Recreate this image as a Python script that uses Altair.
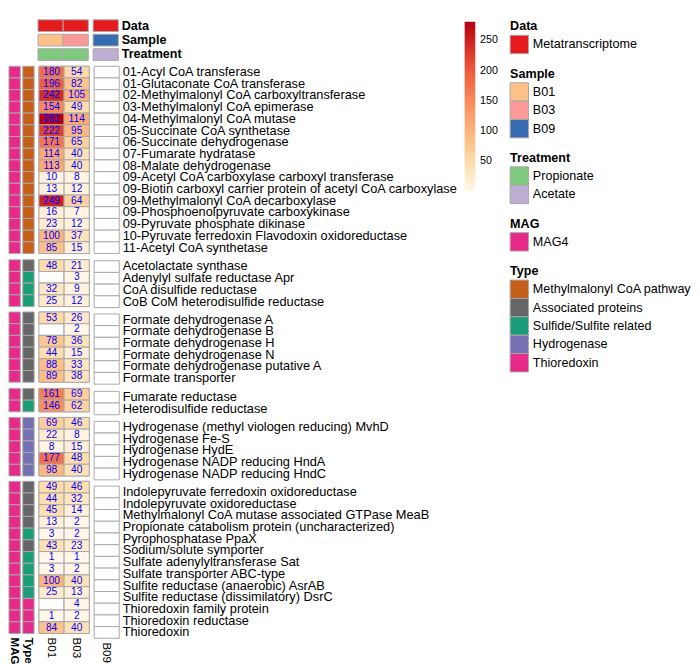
import altair as alt
import pandas as pd

# ---------------- data ----------------
genes = [
    "01-Acyl CoA transferase",
    "01-Glutaconate CoA transferase",
    "02-Methylmalonyl CoA carboxyltransferase",
    "03-Methylmalonyl CoA epimerase",
    "04-Methylmalonyl CoA mutase",
    "05-Succinate CoA synthetase",
    "06-Succinate dehydrogenase",
    "07-Fumarate hydratase",
    "08-Malate dehydrogenase",
    "09-Acetyl CoA carboxylase carboxyl transferase",
    "09-Biotin carboxyl carrier protein of acetyl CoA carboxylase",
    "09-Methylmalonyl CoA decarboxylase",
    "09-Phosphoenolpyruvate carboxykinase",
    "09-Pyruvate phosphate dikinase",
    "10-Pyruvate ferredoxin Flavodoxin oxidoreductase",
    "11-Acetyl CoA synthetase",
    "Acetolactate synthase",
    "Adenylyl sulfate reductase Apr",
    "CoA disulfide reductase",
    "CoB CoM heterodisulfide reductase",
    "Formate dehydrogenase A",
    "Formate dehydrogenase B",
    "Formate dehydrogenase H",
    "Formate dehydrogenase N",
    "Formate dehydrogenase putative A",
    "Formate transporter",
    "Fumarate reductase",
    "Heterodisulfide reductase",
    "Hydrogenase (methyl viologen reducing) MvhD",
    "Hydrogenase Fe-S",
    "Hydrogenase HydE",
    "Hydrogenase NADP reducing HndA",
    "Hydrogenase NADP reducing HndC",
    "Indolepyruvate ferredoxin oxidoreductase",
    "Indolepyruvate oxidoreductase",
    "Methylmalonyl CoA mutase associated GTPase MeaB",
    "Propionate catabolism protein (uncharacterized)",
    "Pyrophosphatase PpaX",
    "Sodium/solute symporter",
    "Sulfate adenylyltransferase Sat",
    "Sulfate transporter ABC-type",
    "Sulfite reductase (anaerobic) AsrAB",
    "Sulfite reductase (dissimilatory) DsrC",
    "Thioredoxin family protein",
    "Thioredoxin reductase",
    "Thioredoxin",
]
group_sizes = [16, 4, 6, 2, 5, 13]
type_codes = (["M"] * 16 + ["A", "S", "S", "S"] + ["A"] * 6 + ["A", "S"] + ["H"] * 5
              + ["A", "A", "A", "A", "S", "A", "S", "S", "S", "S", "T", "T", "T"])
b01 = [180, 196, 242, 154, 281, 222, 171, 114, 113, 10, 13, 249, 16, 23, 100, 85,
       48, None, 32, 25,
       53, None, 78, 44, 88, 89,
       161, 146,
       69, 22, 8, 177, 98,
       49, 44, 45, 13, 3, 43, 1, 3, 100, 25, None, 1, 84]
b03 = [54, 82, 105, 49, 114, 95, 65, 40, 40, 8, 12, 64, 7, 12, 37, 15,
       21, 3, 9, 12,
       26, 2, 36, 15, 33, 38,
       69, 62,
       46, 8, 15, 48, 40,
       46, 32, 14, 2, 2, 23, 1, 2, 40, 13, 4, 2, 40]
b09 = [None] * len(genes)

samples = ["B01", "B03", "B09"]
data_ann = ["Metatranscriptome", "Metatranscriptome", "Metatranscriptome"]
treatment_ann = ["Propionate", "Propionate", "Acetate"]
mag_names = ["MAG4"]
type_names = ["Methylmalonyl CoA pathway", "Associated proteins",
              "Sulfide/Sulfite related", "Hydrogenase", "Thioredoxin"]
type_lookup = dict(zip(["M", "A", "S", "H", "T"], type_names))
treatment_names = ["Propionate", "Acetate"]
data_names = ["Metatranscriptome"]
col_rows = ["Data", "Sample", "Treatment"]
ann_cols = ["MAG", "Type"]
legend_ticks = [50, 100, 150, 200, 250]

# ---------------- styles ----------------
data_colors = ["#E41A1C"]
sample_colors = ["#FDC086", "#FB9A99", "#386CB0"]
treatment_colors = ["#7FC97F", "#BEAED4"]
mag_colors = ["#E7298A"]
type_colors = ["#C65F1A", "#666666", "#1B9E77", "#7570B3", "#E7298A"]
heat_domain = [1, 50, 100, 150, 200, 250, 281]
heat_range = ["#FFF7EA", "#FEDCAA", "#FDB47C", "#F98A5B", "#EC5A3D", "#CD2320", "#B10015"]
GREY = "#A8A8A8"
STEP = 12.1
FONT = "Liberation Sans"

group_names = []
for i, n in enumerate(group_sizes):
    group_names += [f"g{i+1}"] * n
group_order = [f"g{i+1}" for i in range(len(group_sizes))]

rows = []
for i, g in enumerate(genes):
    for s, vals in zip(samples, [b01, b03, b09]):
        rows.append({"gene": g, "group": group_names[i], "sample": s, "value": vals[i]})
df = pd.DataFrame(rows)

ann_rows = []
for i, g in enumerate(genes):
    ann_rows.append({"gene": g, "group": group_names[i], "ann": "MAG", "cat": mag_names[0]})
    ann_rows.append({"gene": g, "group": group_names[i], "ann": "Type", "cat": type_lookup[type_codes[i]]})
ann_df = pd.DataFrame(ann_rows)

col_rows_data = []
for j, s in enumerate(samples):
    col_rows_data.append({"sample": s, "row": "Data", "cat": data_ann[j]})
    col_rows_data.append({"sample": s, "row": "Sample", "cat": s})
    col_rows_data.append({"sample": s, "row": "Treatment", "cat": treatment_ann[j]})
col_df = pd.DataFrame(col_rows_data)

heat_scale = alt.Scale(type="linear", domain=heat_domain, range=heat_range, interpolate="rgb")
ann_scale = alt.Scale(domain=mag_names + type_names, range=mag_colors + type_colors)
col_scale = alt.Scale(domain=data_names + samples + treatment_names,
                      range=data_colors + sample_colors + treatment_colors)

facet_row = alt.Row("group:N", sort=group_order, title=None, header=alt.Header(labels=False))
gene_y_scale = alt.Scale(paddingInner=0, paddingOuter=0)


def bottom_axis(bold):
    return alt.Axis(title=None, labelAngle=90, labelFontSize=12, ticks=False, domain=False,
                    labelPadding=3, labelFontWeight="bold" if bold else "normal", labelColor="black")


def heat_panel(samps, width, show_labels):
    sub = df[df["sample"].isin(samps)]
    x = alt.X("sample:N", sort=samps, scale=alt.Scale(domain=samps, paddingInner=0, paddingOuter=0),
              axis=bottom_axis(False))
    if show_labels:
        yax = alt.Axis(orient="right", title=None, ticks=False, domain=False, labelFontSize=13.2,
                       labelLimit=600, labelPadding=3, labelColor="black")
    else:
        yax = None
    y = alt.Y("gene:N", sort=genes, scale=gene_y_scale, axis=yax)
    base = alt.Chart().mark_rect(fill="white", stroke=GREY, strokeWidth=1).encode(x=x, y=y)
    col = alt.Chart().mark_rect(stroke=GREY, strokeWidth=1).encode(
        x=x, y=y, color=alt.Color("value:Q", scale=heat_scale, legend=None)
    ).transform_filter("isValid(datum.value)")
    txt = alt.Chart().mark_text(fontSize=10.5, color="#0000FF").encode(
        x=x, y=y, text=alt.Text("value:Q", format="d")
    ).transform_filter("isValid(datum.value)")
    return (alt.layer(base, col, txt, data=sub)
            .properties(width=width, height=alt.Step(STEP))
            .facet(row=facet_row, spacing=4)
            .resolve_scale(y="independent"))


rowann = (alt.Chart(ann_df).mark_rect(stroke=GREY, strokeWidth=1).encode(
    x=alt.X("ann:N", sort=ann_cols, scale=alt.Scale(domain=ann_cols, paddingInner=0.18, paddingOuter=0),
            axis=bottom_axis(True)),
    y=alt.Y("gene:N", sort=genes, scale=gene_y_scale, axis=None),
    color=alt.Color("cat:N", scale=ann_scale, legend=None),
).properties(width=26, height=alt.Step(STEP))
 .facet(row=facet_row, spacing=4)
 .resolve_scale(y="independent"))


def col_panel(samps, width, show_labels):
    sub = col_df[col_df["sample"].isin(samps)]
    if show_labels:
        yax = alt.Axis(orient="right", title=None, ticks=False, domain=False, labelFontSize=13,
                       labelFontWeight="bold", labelPadding=3, labelColor="black")
    else:
        yax = None
    return alt.Chart(sub).mark_rect(stroke=GREY, strokeWidth=1).encode(
        x=alt.X("sample:N", sort=samps, scale=alt.Scale(domain=samps, paddingInner=0, paddingOuter=0), axis=None),
        y=alt.Y("row:N", sort=col_rows, scale=alt.Scale(domain=col_rows, paddingInner=0.19, paddingOuter=0), axis=yax),
        color=alt.Color("cat:N", scale=col_scale, legend=None),
    ).properties(width=width, height=42)


def blank(w, h):
    return alt.Chart(pd.DataFrame({"s": [0]})).mark_rect(opacity=0).properties(width=w, height=h)


# gradient (colour bar) legend
grad_holder = alt.Chart(pd.DataFrame({"value": heat_domain})).mark_rect().encode(
    color=alt.Color("value:Q", scale=heat_scale,
                    legend=alt.Legend(orient="none", legendX=2, legendY=2, title=None,
                                      gradientLength=175, gradientThickness=11, values=legend_ticks,
                                      labelFontSize=11, labelOffset=5, gradientStrokeWidth=0,
                                      direction="vertical", labelColor="black"))
).transform_filter("false").properties(width=42, height=1)


def legend_block(names, colors, title):
    d = pd.DataFrame({"cat": names})
    header = blank(19, 1).properties(
        title=alt.Title(title, orient="bottom", anchor="start", fontSize=13, fontWeight="bold",
                        color="black", offset=0))
    swatches = alt.Chart(d).mark_rect(stroke=GREY, strokeWidth=1).encode(
        y=alt.Y("cat:N", sort=names, scale=alt.Scale(domain=names, paddingInner=0, paddingOuter=0),
                axis=alt.Axis(orient="right", title=None, ticks=False, domain=False, labelFontSize=13,
                              labelPadding=4, labelColor="black", labelLimit=300)),
        color=alt.Color("cat:N", scale=alt.Scale(domain=names, range=colors), legend=None),
    ).properties(width=19, height=alt.Step(19))
    return alt.vconcat(header, swatches, spacing=1).resolve_scale(color="independent", y="independent")


legend_col = alt.vconcat(
    legend_block(data_names, data_colors, "Data"),
    legend_block(samples, sample_colors, "Sample"),
    legend_block(treatment_names, treatment_colors, "Treatment"),
    legend_block(mag_names, mag_colors, "MAG"),
    legend_block(type_names, type_colors, "Type"),
    spacing=13,
).resolve_scale(color="independent", y="independent")

top = alt.hconcat(blank(26, 42), col_panel(["B01", "B03"], 52, False), col_panel(["B09"], 26, True),
                  spacing=3).resolve_scale(color="independent")
main = alt.hconcat(rowann, heat_panel(["B01", "B03"], 52, False), heat_panel(["B09"], 26, True),
                   spacing=3).resolve_scale(color="independent")
left = alt.vconcat(top, main, spacing=3).resolve_scale(color="independent")

chart = (alt.hconcat(left, grad_holder, legend_col, spacing=6)
         .resolve_scale(color="independent")
         .properties(padding=0, background="white")
         .configure(font=FONT)
         .configure_view(strokeWidth=0))

chart.save("out.html", embed_options={"renderer": "svg", "actions": False})
